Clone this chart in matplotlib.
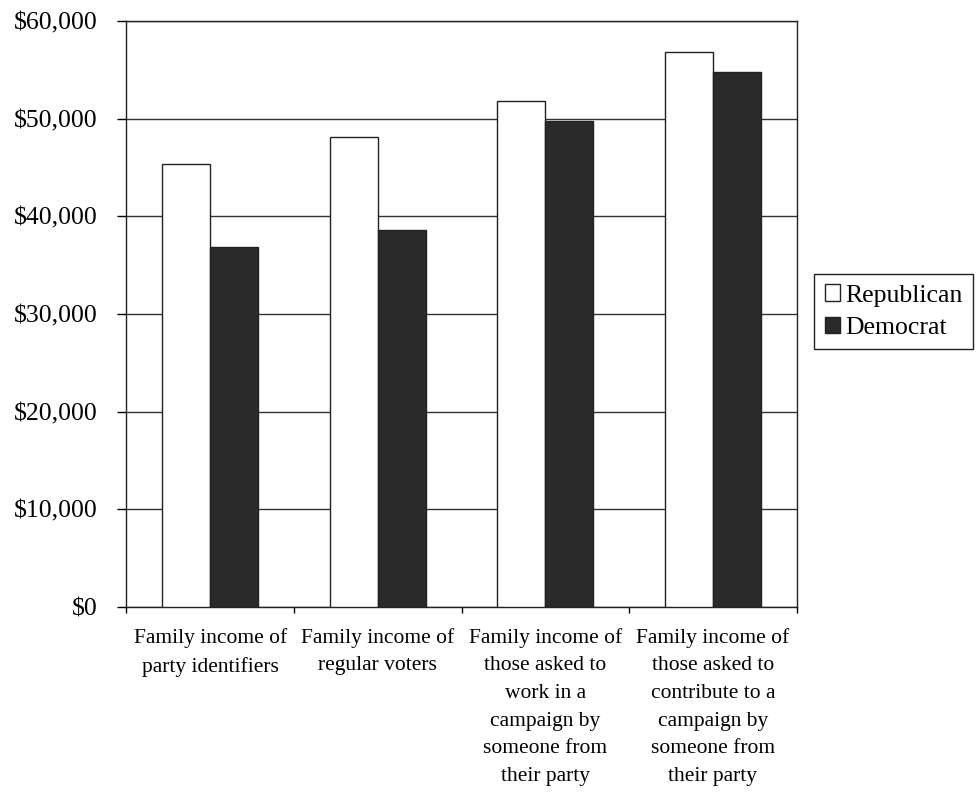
import numpy as np
import matplotlib.pyplot as plt
from matplotlib.ticker import FuncFormatter

# Values
categories = [
    "Family income of\nparty identifiers",
    "Family income of\nregular voters",
    "Family income of\nthose asked to\nwork in a\ncampaign by\nsomeone from\ntheir party",
    "Family income of\nthose asked to\ncontribute to a\ncampaign by\nsomeone from\ntheir party",
]
republican = [45400, 48100, 51800, 56800]
democrat = [36900, 38600, 49800, 54800]
y_ticks = [0, 10000, 20000, 30000, 40000, 50000, 60000]

plt.rcParams['font.family'] = ['Liberation Serif', 'DejaVu Serif']

fig = plt.figure(figsize=(9.8, 7.93), dpi=100)
ax = fig.add_axes([0.129, 0.2346, 0.684, 0.739])

x = np.arange(len(categories))
w = 1 / 3.5  # Excel-style gap width of 150%
ax.bar(x - w / 2, republican, w, color='white', edgecolor='#222222',
       linewidth=1.0, label='Republican', zorder=3)
ax.bar(x + w / 2, democrat, w, color='#2a2a2a', edgecolor='#222222',
       linewidth=1.0, label='Democrat', zorder=3)

ax.set_xlim(-0.5, len(categories) - 0.5)
ax.set_ylim(0, 60000)
ax.set_yticks(y_ticks)
ax.yaxis.set_major_formatter(FuncFormatter(lambda v, p: f"${v:,.0f}"))
ax.yaxis.grid(True, color='#333333', linewidth=1.0, zorder=0)

# category labels sit between boundary ticks
ax.set_xticks(np.append(x - 0.5, len(categories) - 0.5))
ax.set_xticklabels([])
ax.set_xticks(x, minor=True)
ax.set_xticklabels(categories, minor=True, fontsize=15.5)
for lbl in ax.get_xticklabels(minor=True):
    lbl.set_linespacing(1.62)
ax.tick_params(axis='x', which='minor', length=0, pad=15)
ax.tick_params(axis='x', which='major', direction='out', length=4, width=1)
ax.tick_params(axis='y', direction='out', length=6.5, width=1, pad=14,
               labelsize=18.5)

for s in ax.spines.values():
    s.set_linewidth(1.0)
    s.set_color('#222222')

leg = fig.legend(loc='center left', bbox_to_anchor=(0.831, 0.607),
                 fontsize=18.5, fancybox=False, framealpha=1,
                 edgecolor='#222222', handlelength=0.6, handleheight=0.6,
                 handletextpad=0.2, borderpad=0.4, labelspacing=0.4,
                 borderaxespad=0)
leg.get_frame().set_linewidth(1.0)

fig.savefig('out.png', dpi=100)
